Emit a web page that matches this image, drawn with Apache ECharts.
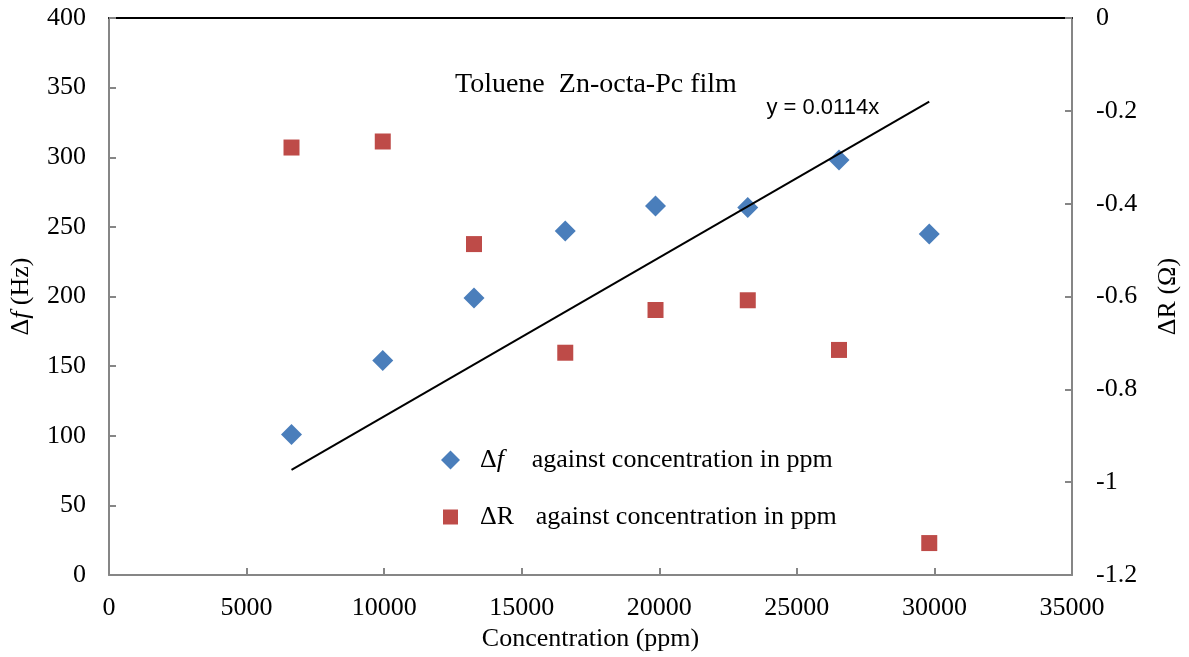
<!DOCTYPE html>
<html>
<head>
<meta charset="utf-8">
<script src="https://cdn.jsdelivr.net/npm/echarts@6/dist/echarts.min.js"></script>
<style>
    html, body {margin: 0; padding: 0; background: #fff;}
    #chart {width: 1189px; height: 657px;}
</style>
</head>
<body>
<div id="chart"></div>
<script>
// concentration (ppm)
let conc = [6633, 9950, 13266, 16583, 19863, 23216, 26532, 29812];
// delta f (Hz), left axis
let deltaF = [101, 154, 199, 247, 265, 264, 298, 245];
// delta R (ohm), right axis
let deltaR = [-0.279, -0.266, -0.487, -0.721, -0.629, -0.608, -0.715, -1.131];
// trendline y = 0.0114x, end points
let trendX = [6633, 29812];
let trendY = [75.6, 339.9];

let serif = 'Liberation Serif';
let grey = '#868686';
let fs = 26;

function pairs(xs, ys) {
    return xs.map(function (x, i) {
        return [x, ys[i]];
    });
}

function legendText(spacer, wLast) {
    return {
        fontSize: fs, color: '#000', lineHeight: 26,
        rich: {
            s: {width: spacer},
            a: {fontFamily: serif, fontSize: fs, lineHeight: 26},
            i: {fontFamily: serif, fontSize: fs, fontStyle: 'italic', width: wLast, lineHeight: 26},
            r: {fontFamily: serif, fontSize: fs, width: wLast, lineHeight: 26}
        }
    };
}

let e1 = echarts.init(document.getElementById('chart'));
e1.setOption({
    animation: false,
    textStyle: {fontFamily: serif},
    grid: {left: 108, right: 110, top: 18, bottom: 80},
    title: {
        text: 'Toluene  Zn-octa-Pc film',
        left: 450, top: 66,
        textStyle: {fontFamily: serif, fontSize: 28, fontWeight: 'normal', color: '#000'}
    },
    legend: [
        {
            left: 436, top: 442, itemWidth: 19, itemHeight: 19, itemGap: 0,
            textStyle: legendText(15, 35),
            formatter: function () {
                return '{s|}{a|Δ}{i|f}{a|against concentration in ppm}';
            },
            data: [{name: 'f', icon: 'diamond'}]
        },
        {
            left: 438, top: 499, itemWidth: 15, itemHeight: 15, itemGap: 0,
            textStyle: legendText(17, 39),
            formatter: function () {
                return '{s|}{a|Δ}{r|R}{a|against concentration in ppm}';
            },
            data: [{name: 'R', icon: 'rect'}]
        }
    ],
    xAxis: [
        {
            type: 'value', min: 0, max: 35000, interval: 5000,
            name: 'Concentration (ppm)', nameLocation: 'middle', nameGap: 44,
            nameTextStyle: {fontFamily: serif, fontSize: fs, color: '#000'},
            axisLine: {onZero: false, lineStyle: {color: grey, width: 2}},
            axisTick: {inside: true, length: 7, lineStyle: {color: grey, width: 2}},
            axisLabel: {
                fontFamily: serif, fontSize: fs, color: '#000', margin: 20,
                formatter: function (v) {
                    return String(v);
                }
            },
            splitLine: {show: false}
        },
        {
            type: 'value', min: 0, max: 35000, position: 'top',
            axisLine: {show: true, onZero: false, lineStyle: {color: '#000', width: 2}},
            axisTick: {show: false}, axisLabel: {show: false}, splitLine: {show: false}
        }
    ],
    yAxis: [
        {
            type: 'value', min: 0, max: 400, interval: 50,
            name: '{a|Δ}{i|f}{a| (Hz)}', nameLocation: 'middle', nameGap: 75, nameRotate: 90,
            nameTextStyle: {
                color: '#000',
                rich: {
                    a: {fontFamily: serif, fontSize: fs},
                    i: {fontFamily: serif, fontSize: fs, fontStyle: 'italic'}
                }
            },
            axisLine: {show: true, onZero: false, lineStyle: {color: grey, width: 2}},
            axisTick: {inside: true, length: 7, lineStyle: {color: grey, width: 2}},
            axisLabel: {fontFamily: serif, fontSize: fs, color: '#000', margin: 23},
            splitLine: {show: false}
        },
        {
            type: 'value', min: -1.2, max: 0, interval: 0.2, position: 'right',
            name: 'ΔR (Ω)', nameLocation: 'middle', nameGap: 83, nameRotate: 90,
            nameTextStyle: {fontFamily: serif, fontSize: fs, color: '#000'},
            axisLine: {show: true, onZero: false, lineStyle: {color: grey, width: 2}},
            axisTick: {inside: true, length: 7, lineStyle: {color: grey, width: 2}},
            axisLabel: {
                fontFamily: serif, fontSize: fs, color: '#000', margin: 24,
                formatter: function (v) {
                    return String(Math.round(v * 10) / 10);
                }
            },
            splitLine: {show: false}
        }
    ],
    series: [
        {
            name: 'f', type: 'scatter', yAxisIndex: 0,
            symbol: 'diamond', symbolSize: 21,
            itemStyle: {color: '#4A7EBB', opacity: 1},
            data: pairs(conc, deltaF)
        },
        {
            name: 'R', type: 'scatter', yAxisIndex: 1,
            symbol: 'rect', symbolSize: 16,
            itemStyle: {color: '#BE4B48', opacity: 1},
            data: pairs(conc, deltaR)
        },
        {
            name: 'trend', type: 'line', yAxisIndex: 0,
            symbol: 'none', lineStyle: {color: '#000', width: 2},
            data: pairs(trendX, trendY),
            markPoint: {
                symbol: 'rect', symbolSize: 1,
                itemStyle: {color: 'transparent'},
                label: {
                    show: true, position: 'left', distance: 0,
                    formatter: 'y = 0.0114x',
                    fontFamily: 'Liberation Sans', fontSize: 22, color: '#000'
                },
                data: [{coord: [28010, 335.6]}]
            }
        }
    ]
});
</script>
</body>
</html>
